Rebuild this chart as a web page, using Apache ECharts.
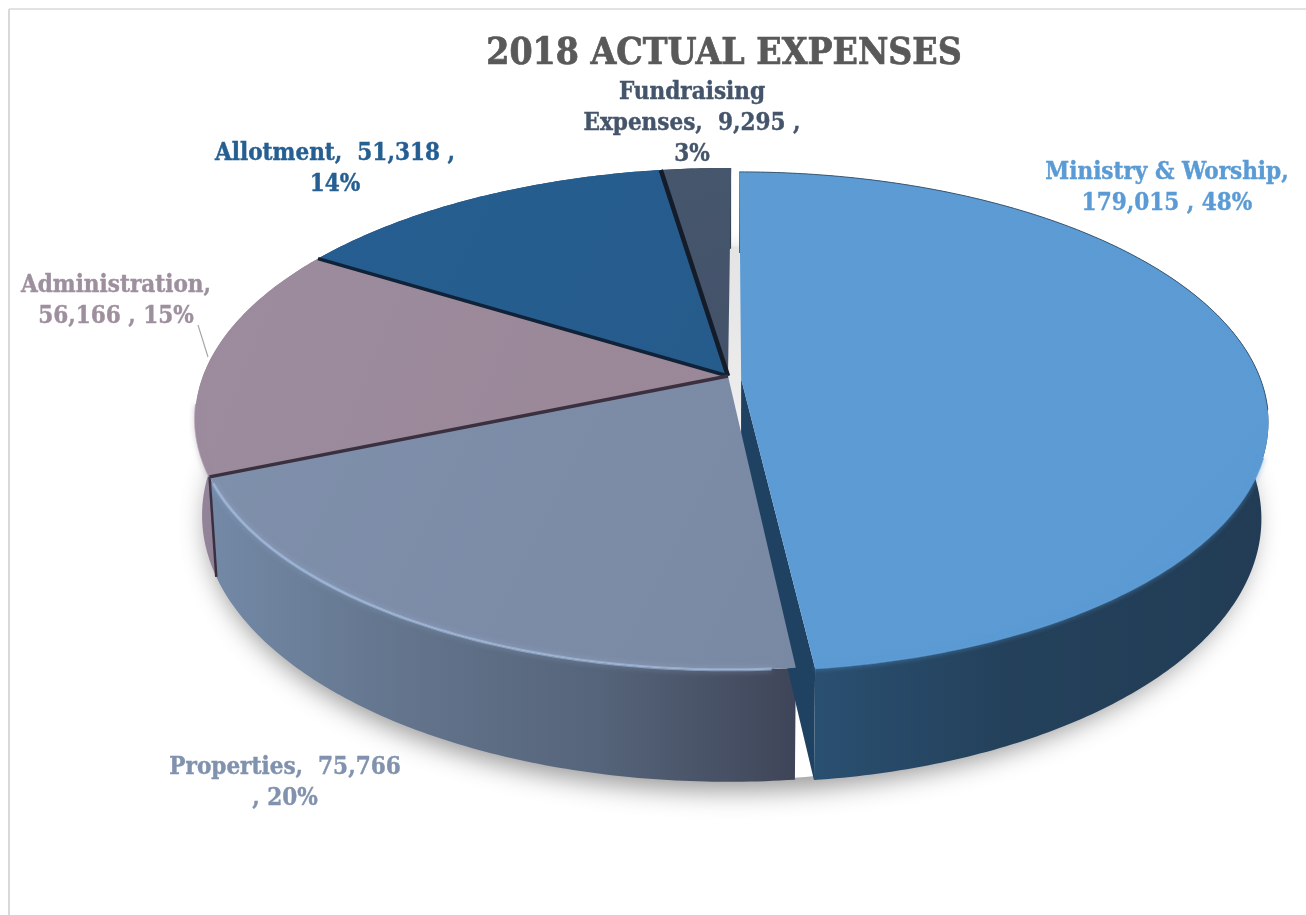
<!DOCTYPE html>
<html><head><meta charset="utf-8">
<style>html,body{margin:0;padding:0;background:#fff}#c{width:1306px;height:915px}</style>
<script src="https://cdn.jsdelivr.net/npm/echarts@6/dist/echarts.min.js"></script>
</head><body><div id="c"></div>
<script>
const categories = ["Ministry & Worship", "Properties", "Administration", "Allotment", "Fundraising Expenses"];
const values = [179015, 75766, 56166, 51318, 9295];
const titleText = "2018 ACTUAL EXPENSES";
const textColors = ["#5B9BD5", "#8092AE", "#9E8F9F", "#255E91", "#44546A"];
const topColors = [["#5D9BD3","#5B9AD4"],["#7F90AC","#7A89A3"],["#9C8C9E","#9A8797"],["#255E91","#265C8C"],["#46566C","#43526A"]];
const wallColors = [["#2C5579","#24415B","#223C55"],["#7389A6","#63748C","#55647A","#3F4558"],["#93849A","#8D7E90","#7D6E80"],["#1D4A73","#1D4A73","#1D4A73"],["#333F50","#333F50","#333F50"]];
const dividerColors = ["#1F3D59","#3A3040","#0F2238","#141C2A","#141C2A"];
const FONT = '"DejaVu Serif Condensed", serif';

const total = values.reduce((a,b)=>a+b,0);
const pct = values.map(v=>Math.round(v/total*100));
const fmt = v=>v.toLocaleString("en-US");
const labelTexts = [
  `${categories[0]},\n${fmt(values[0])} , ${pct[0]}%`,
  `${categories[1]},  ${fmt(values[1])}\n, ${pct[1]}%`,
  `${categories[2]},\n${fmt(values[2])} , ${pct[2]}%`,
  `${categories[3]},  ${fmt(values[3])} ,\n${pct[3]}%`,
  `${categories[4].replace(" ","\n")},  ${fmt(values[4])} ,\n${pct[4]}%`
];
const labelPos = [[1167,188],[285,783],[116,301],[335,169],[692,124]];

// perspective disc projection
const CX=728, CY=376, RX=525, RY=243.6, K=0.171, EXPLODE=0.025, ROT=0.007;
const angles=[]; { let a=0; values.forEach(v=>{const b=a+v/total*Math.PI*2; angles.push([a,b]); a=b;}); }
function proj(r,t,i){
  const m=i===0;
  const tt=m?t:t+ROT;
  const x=r*Math.sin(tt)*(m?0.987:1)+(m?EXPLODE:0), y=-r*Math.cos(tt)*(m?0.99:1)+(m?0.012:0);
  const s=1/(1-K*y);
  return [CX+RX*x*s, CY+RY*y*s];
}
function low(p){
  return [CX+(p[0]-CX)*0.987, p[1]+100+(p[1]-477)*0.062];
}
function arc(i,r,a,b){
  const n=Math.max(4,Math.ceil((b-a)/0.012)), out=[];
  for(let k=0;k<=n;k++) out.push(proj(r,a+(b-a)*k/n,i));
  return out;
}
function hGrad(cols){
  return new echarts.graphic.LinearGradient(0,0,1,0,cols.map((c,j)=>({offset:j/(cols.length-1),color:c})));
}
const order=[4,3,2,1,0];

function renderShadow(){
  const pts=arc(1,1,0,Math.PI*2).map(low).map(p=>[CX+(p[0]-CX)*0.995,p[1]-2]);
  return {type:'polygon',shape:{points:pts},style:{
    fill:new echarts.graphic.LinearGradient(0,0,0,1,[{offset:0,color:'#e4e4e4'},{offset:0.28,color:'#ececec'},{offset:0.42,color:'#ffffff'},{offset:1,color:'#ffffff'}]),
    shadowBlur:26,shadowColor:'rgba(0,0,0,0.40)',shadowOffsetX:2,shadowOffsetY:11}};
}
function renderWall(params,api){
  const i=api.value(0), [a,b]=angles[i], top=arc(i,1,a,b), bot=top.map(low).reverse();
  const ch=[{type:'polygon',shape:{points:top.concat(bot)},style:{fill:hGrad(wallColors[i])}}];
  if(i===0){
    const e=proj(1,b,0), c=proj(0,0,0);
    ch.unshift({type:'polygon',shape:{points:[c,e,low(e),low(c)]},style:{fill:'#1F4263'}});
  }
  if(i===1){
    const e=top[top.length-1];
    ch.push({type:'polyline',shape:{points:[e,low(e)]},style:{stroke:dividerColors[1],fill:null,lineWidth:2.5}});
  }
  return {type:'group',children:ch};
}
function renderTop(params,api){
  const i=api.value(0), [a,b]=angles[i], c=proj(0,0,i), o=arc(i,1,a,b);
  const ch=[{type:'polygon',shape:{points:[c].concat(o)},style:{fill:new echarts.graphic.LinearGradient(0,0,1,1,[{offset:0,color:topColors[i][0]},{offset:1,color:topColors[i][1]}])}}];
  const last=o[o.length-1];
  if(i===0){
    ch.push({type:'polyline',shape:{points:arc(0,1,0,Math.PI*0.54)},style:{stroke:'#3b5a75',fill:null,lineWidth:1}});
    ch.push({type:'polyline',shape:{points:arc(0,1,Math.PI*0.6,b)},style:{stroke:'rgba(91,155,213,0.8)',fill:null,lineWidth:2,shadowBlur:5,shadowColor:'#5B9BD5'}});
  }
  if(i===1){
    const d=b-a;
    ch.push({type:'polyline',shape:{points:arc(1,1,a+0.03*d,b-0.02*d)},style:{stroke:'rgba(172,196,232,0.55)',fill:null,lineWidth:3,shadowBlur:6,shadowColor:'rgba(172,196,232,0.7)'}});
  }
  if(i===2){
    ch.push({type:'polyline',shape:{points:arc(2,1,a,a+0.3*(b-a))},style:{stroke:'rgba(156,140,158,0.7)',fill:null,lineWidth:2,shadowBlur:5,shadowColor:'#9C8C9E'}});
  }
  if(i===1||i===2||i===3){
    ch.push({type:'polyline',shape:{points:[c,last]},style:{stroke:dividerColors[i],fill:null,lineWidth:i===3?4.5:3.5}});
  }
  return {type:'group',children:ch};
}
function renderLabel(params,api){
  const i=api.value(0);
  return {type:'text',style:{text:labelTexts[i],x:labelPos[i][0],y:labelPos[i][1],fill:textColors[i],stroke:textColors[i],lineWidth:0.4,font:`bold 24px ${FONT}`,align:'center',verticalAlign:'middle',lineHeight:31}};
}
const chart=echarts.init(document.getElementById('c'),null,{renderer:'canvas'});
chart.setOption({
  animation:false,
  backgroundColor:'#fff',
  title:{text:titleText,left:719,top:31,textAlign:'center',textStyle:{fontFamily:FONT,fontWeight:'bold',fontSize:37,color:'#595959',textBorderColor:'#595959',textBorderWidth:0.7}},
  graphic:[
    {type:'line',shape:{x1:9,y1:9,x2:9,y2:915},style:{stroke:'#d9d9d9',lineWidth:2}},
    {type:'line',shape:{x1:9,y1:9,x2:1306,y2:9},style:{stroke:'#d9d9d9',lineWidth:1.5}},
    {type:'line',shape:{x1:198,y1:325,x2:208,y2:357},style:{stroke:'#a6a6a6',lineWidth:1.2},z:10}
  ],
  series:[
    {type:'custom',coordinateSystem:'none',z:1,silent:true,renderItem:renderShadow,data:[[0]]},
    {type:'custom',coordinateSystem:'none',z:2,silent:true,renderItem:renderWall,data:order.map(i=>[i])},
    {type:'custom',coordinateSystem:'none',z:3,silent:true,renderItem:renderTop,data:order.map(i=>[i])},
    {type:'custom',coordinateSystem:'none',z:4,silent:true,renderItem:renderLabel,data:values.map((v,i)=>[i])}
  ]
});
</script></body></html>
